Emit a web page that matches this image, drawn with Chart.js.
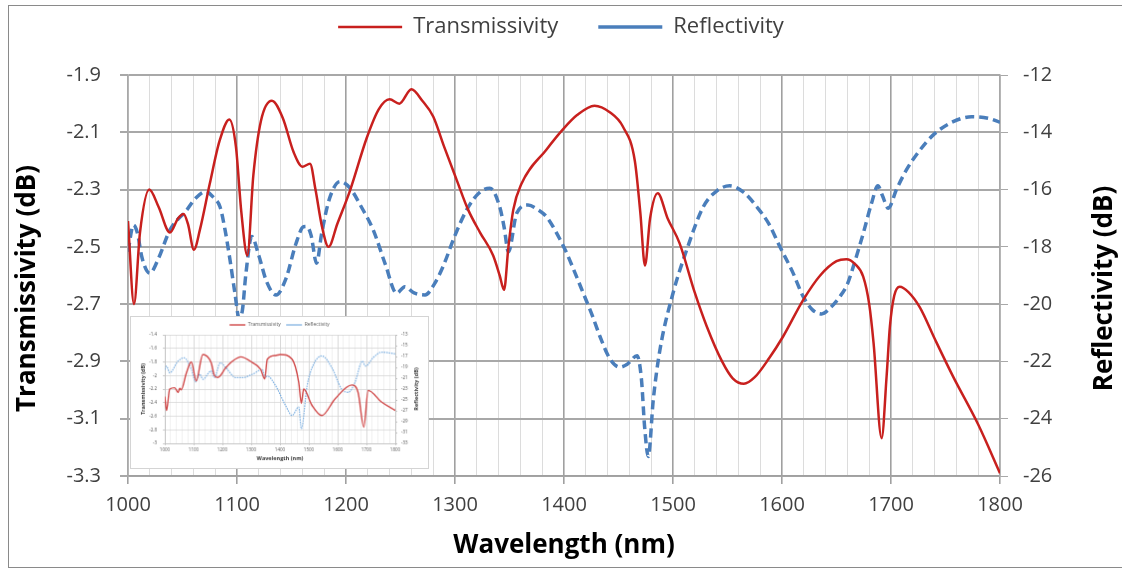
<!DOCTYPE html>
<html>
<head>
<meta charset="utf-8">
<script src="https://cdn.jsdelivr.net/npm/chart.js@4.4.1/dist/chart.umd.min.js"></script>
<style>
  html, body { margin:0; padding:0; background:#fff; }
  #wrap { position:relative; width:1122px; height:570px; overflow:hidden; }
  #frame { position:absolute; left:8px; top:5px; width:1130px; height:563px; border:1.5px solid #8a8a8a; box-sizing:border-box; }
  #main { position:absolute; left:0; top:0; }
  #inset { position:absolute; left:130px; top:316px; background:#fff; border:1px solid #d4d4d4; }
</style>
</head>
<body>
<div id="wrap">
  <div id="frame"></div>
  <canvas id="main" width="1122" height="570"></canvas>
  <canvas id="inset" width="299" height="153"></canvas>
</div>
<script>
// ===== Data: main chart =====
const transWl = [1000,1005.5,1011,1019.5,1028,1038.5,1046,1051,1055,1060.5,1066,1075,1084,1093,1099,1104,1109.5,1115,1122,1132,1142,1152,1160,1167,1172,1178,1184,1192,1204,1219,1230,1240,1249,1260,1270,1280,1290,1301.5,1312,1323,1335,1341,1345,1349,1353.5,1361,1384,1399,1412,1428,1442,1454,1465,1470,1474.3,1479,1486,1495,1506,1520,1531,1545,1555,1565,1575,1588,1601,1619.5,1635,1650,1659,1667,1674.5,1680,1684,1691.4,1696,1699,1703,1708,1716,1726.6,1740,1757,1780,1800];
const transDb = [-2.41,-2.70,-2.45,-2.30,-2.36,-2.45,-2.40,-2.385,-2.42,-2.51,-2.44,-2.28,-2.13,-2.055,-2.15,-2.38,-2.53,-2.25,-2.06,-1.99,-2.05,-2.17,-2.22,-2.21,-2.30,-2.43,-2.50,-2.42,-2.30,-2.12,-2.02,-1.985,-2.00,-1.95,-1.99,-2.045,-2.15,-2.266,-2.37,-2.45,-2.53,-2.60,-2.65,-2.50,-2.37,-2.28,-2.16,-2.09,-2.04,-2.007,-2.03,-2.08,-2.20,-2.38,-2.565,-2.40,-2.313,-2.40,-2.487,-2.66,-2.778,-2.90,-2.96,-2.978,-2.955,-2.89,-2.813,-2.685,-2.60,-2.55,-2.543,-2.56,-2.604,-2.70,-2.835,-3.168,-2.95,-2.778,-2.67,-2.639,-2.658,-2.712,-2.82,-2.953,-3.12,-3.29];

const reflWl = [1000,1005,1008.5,1013,1020,1028,1038.5,1054,1062,1071.5,1079,1084.4,1089,1093.6,1098,1102,1105,1108,1113.5,1120,1127,1135.8,1145,1154,1161,1164,1168,1173,1177.7,1185,1194.5,1203.7,1214,1225,1236,1246.5,1254,1262,1272.5,1281,1289,1300,1310.7,1322,1332,1341,1345,1349,1356.6,1367,1376,1384,1393,1402.5,1410,1417.7,1426,1433,1442,1451,1458,1467,1471,1474,1477.3,1482,1488,1500,1512.6,1527.8,1540,1552,1565,1576.8,1588,1598,1610,1619.5,1628,1636.4,1645,1653,1660,1665.4,1674.6,1682,1688,1692,1697.5,1705,1714,1726,1738.8,1757,1774,1790,1800];
const reflDb = [-18.17,-17.24,-17.5,-18.4,-18.92,-18.4,-17.41,-16.71,-16.3,-16.07,-16.3,-16.6,-17.4,-18.46,-19.6,-20.5,-20.2,-19.0,-17.64,-18.3,-19.2,-19.68,-19.1,-17.9,-17.3,-17.29,-17.6,-18.57,-17.52,-16.3,-15.72,-15.95,-16.6,-17.41,-18.6,-19.62,-19.39,-19.6,-19.68,-19.3,-18.69,-17.6,-16.71,-16.12,-15.95,-16.6,-17.3,-18.17,-16.83,-16.54,-16.7,-16.95,-17.5,-18.22,-18.9,-19.62,-20.4,-21.13,-21.9,-22.2,-22.1,-21.8,-22.6,-24.3,-25.32,-23.3,-21.6,-19.62,-18.1,-16.6,-16.05,-15.87,-16.1,-16.6,-17.2,-17.99,-18.9,-19.74,-20.2,-20.34,-20.1,-19.74,-19.3,-18.69,-17.52,-16.5,-15.87,-16.2,-16.65,-16.0,-15.32,-14.65,-14.09,-13.63,-13.46,-13.52,-13.65];

// ===== Data: inset chart =====
const insetTransWl = [1000,1006,1017,1034,1046,1052,1057,1075,1092,1109,1132,1161,1172,1184,1212,1235,1264,1304,1333,1347,1356,1385,1401,1442,1465,1474,1482,1511,1545,1591,1649,1671,1691,1706,1752,1800];
const insetTransDb = [-2.31,-2.515,-2.2,-2.18,-2.25,-2.19,-2.21,-1.96,-1.80,-2.08,-1.69,-1.81,-2.0,-2.03,-1.885,-1.79,-1.725,-1.81,-1.91,-2.05,-1.76,-1.705,-1.69,-1.76,-2.1,-2.41,-2.2,-2.44,-2.59,-2.345,-2.14,-2.25,-2.76,-2.22,-2.39,-2.515];
const insetReflWl = [1000,1006,1017,1046,1067,1092,1107,1121,1132,1161,1172,1193,1212,1247,1270,1304,1339,1348,1356,1385,1419,1442,1465,1474,1494,1516,1545,1580,1614,1637,1660,1686,1697,1723,1752,1800];
const insetReflDb = [-19.4,-18.8,-20.0,-17.85,-17.24,-19.36,-21.67,-20.27,-21.2,-19.67,-20.9,-18.15,-19.06,-20.9,-20.9,-20.27,-19.4,-20.9,-20.6,-22.4,-26.0,-27.85,-26.3,-30.3,-22.4,-18.5,-16.9,-19.06,-23.0,-23.6,-21.8,-17.85,-18.76,-17.24,-16.2,-16.5];

// ===== Helpers =====
const toXY = (xs, ys) => xs.map((x, i) => ({ x, y: ys[i] }));
const isMajor = ctx => ctx.tick && Math.round(ctx.tick.value) % 100 === 0;
const excelNum = v => String(parseFloat(v.toFixed(1)));
const FONT = 'Open Sans';

// extra space under the legend (Excel puts a gap there)
function legendGap(extra){
  return {
    id: 'legendGap',
    beforeInit(chart){
      const fit = chart.legend.fit;
      chart.legend.fit = function(){ fit.call(this); this.height += extra; };
    }
  };
}

// Excel-style axis titles: both read bottom-to-top
function sideTitles(cfg){
  return {
    id: 'sideTitles',
    afterDraw(chart){
      const { ctx, chartArea } = chart;
      const midY = (chartArea.top + chartArea.bottom) / 2 + cfg.dy;
      const draw = (text, x) => {
        ctx.save();
        ctx.font = `bold ${cfg.size}px "${FONT}"`;
        ctx.fillStyle = cfg.color;
        ctx.textAlign = 'center';
        ctx.textBaseline = 'middle';
        ctx.translate(x, midY);
        ctx.rotate(-Math.PI / 2);
        ctx.fillText(text, 0, 0);
        ctx.restore();
      };
      draw(cfg.left, cfg.leftX);
      draw(cfg.right, chart.width - cfg.rightInset);
    }
  };
}

// ===== Main chart =====
new Chart(document.getElementById('main'), {
  type: 'line',
  data: {
    datasets: [
      { label:'Transmissivity', data: toXY(transWl, transDb), yAxisID:'y',
        borderColor:'#c8201e', backgroundColor:'#c8201e', borderWidth:2.5,
        pointRadius:0, cubicInterpolationMode:'monotone', fill:false },
      { label:'Reflectivity', data: toXY(reflWl, reflDb), yAxisID:'y2',
        borderColor:'#4a7ebb', backgroundColor:'#4a7ebb', borderWidth:3.5, borderDash:[9,5],
        pointRadius:0, cubicInterpolationMode:'monotone', fill:false }
    ]
  },
  options: {
    responsive:false, animation:false,
    layout:{ padding:{ top:-24, left:0, right:0, bottom:0 } },
    plugins:{
      legend:{ position:'top', labels:{
        usePointStyle:true, pointStyle:'line', pointStyleWidth:64, boxHeight:22,
        padding:40, color:'#404040', font:{ family:FONT, size:22 } } },
      tooltip:{ enabled:false }
    },
    scales:{
      x:{
        type:'linear', min:1000, max:1800,
        afterFit: s => { s.height = 94; },
        ticks:{ stepSize:20, autoSkip:false, maxRotation:0, padding:9, color:'#404040',
          font:{ family:FONT, size:20 }, callback: v => (Math.round(v) % 100 === 0 ? String(v) : '') },
        grid:{ color: c => isMajor(c) ? '#a0a0a0' : '#dcdcdc', lineWidth: c => isMajor(c) ? 1.6 : 1,
          tickLength:8, tickColor: c => isMajor(c) ? '#a0a0a0' : 'rgba(0,0,0,0)' },
        border:{ color:'#a0a0a0', width:1.5 },
        title:{ display:true, text:'Wavelength (nm)', color:'#000',
          font:{ family:FONT, size:26, weight:'bold' }, padding:{ top:0, bottom:9 } }
      },
      y:{
        position:'left', min:-3.3, max:-1.9,
        afterFit: s => { s.width = 128; },
        ticks:{ stepSize:0.2, padding:19, color:'#404040', font:{ family:FONT, size:20 },
          callback: v => v.toFixed(1) },
        grid:{ color:'#a8a8a8', lineWidth:2, tickLength:8, tickColor:'#a8a8a8' },
        border:{ color:'#a8a8a8', width:1.5 },
        title:{ display:false, text:'Transmissivity (dB)' }
      },
      y2:{
        position:'right', min:-26, max:-12,
        afterFit: s => { s.width = 122; },
        ticks:{ stepSize:2, padding:15, color:'#404040', font:{ family:FONT, size:20 },
          callback: v => String(Math.round(v)) },
        grid:{ drawOnChartArea:false, tickLength:8, tickColor:'#a8a8a8' },
        border:{ color:'#a8a8a8', width:1.5 },
        title:{ display:false, text:'Reflectivity (dB)' }
      }
    }
  },
  plugins:[ legendGap(27),
    sideTitles({ left:'Transmissivity (dB)', right:'Reflectivity (dB)', leftX:28, rightInset:17,
      dy:13, size:26, color:'#000' }) ]
});

// ===== Inset (small copy of another measurement) =====
new Chart(document.getElementById('inset'), {
  type: 'line',
  data: {
    datasets: [
      { label:'Transmissivity', data: toXY(insetTransWl, insetTransDb), yAxisID:'y',
        borderColor:'#d04848', backgroundColor:'#d04848', borderWidth:1.4,
        pointRadius:0, cubicInterpolationMode:'monotone', fill:false },
      { label:'Reflectivity', data: toXY(insetReflWl, insetReflDb), yAxisID:'y2',
        borderColor:'#7aaee0', backgroundColor:'#7aaee0', borderWidth:1.2, borderDash:[1.5,1],
        pointRadius:0, cubicInterpolationMode:'monotone', fill:false }
    ]
  },
  options: {
    responsive:false, animation:false,
    layout:{ padding:0 },
    plugins:{
      legend:{ position:'top', labels:{
        usePointStyle:true, pointStyle:'line', pointStyleWidth:16, boxHeight:5,
        padding:5.5, color:'#595959', font:{ family:FONT, size:5 } } },
      tooltip:{ enabled:false }
    },
    scales:{
      x:{
        type:'linear', min:1000, max:1800,
        afterFit: s => { s.height = 25; },
        ticks:{ stepSize:20, autoSkip:false, maxRotation:0, padding:2, color:'#595959',
          font:{ family:FONT, size:4.5 }, callback: v => (Math.round(v) % 100 === 0 ? String(v) : '') },
        grid:{ color: c => isMajor(c) ? '#cfcfcf' : '#ececec', lineWidth:0.8,
          tickLength:2, tickColor: c => isMajor(c) ? '#bdbdbd' : 'rgba(0,0,0,0)' },
        border:{ color:'#bdbdbd', width:0.8 },
        title:{ display:true, text:'Wavelength (nm)', color:'#333',
          font:{ family:FONT, size:5.5, weight:'bold' }, padding:{ top:0, bottom:6.7 } }
      },
      y:{
        position:'left', min:-3, max:-1.4,
        afterFit: s => { s.width = 34; },
        ticks:{ stepSize:0.2, padding:6, color:'#595959', font:{ family:FONT, size:4.5 },
          callback: v => excelNum(v) },
        grid:{ color:'#d6d6d6', lineWidth:0.8, tickLength:2, tickColor:'#bdbdbd' },
        border:{ color:'#bdbdbd', width:0.8 },
        title:{ display:false, text:'Transmissivity (dB)' }
      },
      y2:{
        position:'right', min:-33, max:-13,
        afterFit: s => { s.width = 33; },
        ticks:{ stepSize:2, padding:4, color:'#595959', font:{ family:FONT, size:4.5 },
          callback: v => String(Math.round(v)) },
        grid:{ drawOnChartArea:false, tickLength:2, tickColor:'#bdbdbd' },
        border:{ color:'#bdbdbd', width:0.8 },
        title:{ display:false, text:'Reflectivity (dB)' }
      }
    }
  },
  plugins:[ legendGap(-2.5),
    sideTitles({ left:'Transmissivity (dB)', right:'Reflectivity (dB)', leftX:12, rightInset:12,
      dy:0, size:5.5, color:'#333' }) ]
});
</script>
</body>
</html>
